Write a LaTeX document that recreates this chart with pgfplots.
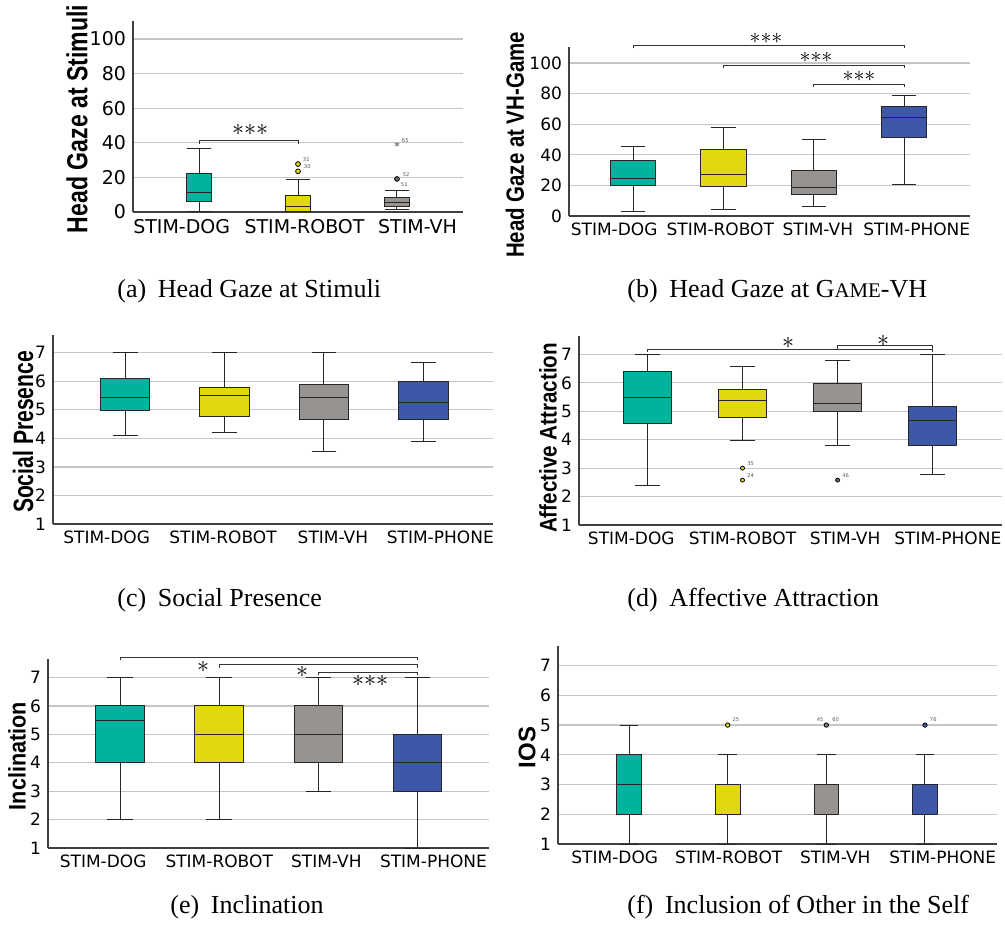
\documentclass[border=0pt]{standalone}
\usepackage{fontspec}
\setmainfont{DejaVu Sans}
\newfontfamily\labfont{Liberation Sans}
\newfontfamily\capfont{Liberation Serif}
\usepackage{graphicx}
\usepackage{pgfplots}
\pgfplotsset{compat=1.18}
\usepgfplotslibrary{statistics}
\definecolor{cteal}{RGB}{0,179,159}
\definecolor{cyel}{RGB}{226,216,18}
\definecolor{cgry}{RGB}{151,147,145}
\definecolor{cblu}{RGB}{61,88,168}
\def\wext{0.25}
\newcommand\bx[8]{\addplot[fill=#1, draw=black!85, line width=0.5pt,
  boxplot prepared={draw direction=y, draw position=#2, lower whisker=#3, lower quartile=#4,
  median=#5, upper quartile=#6, upper whisker=#7, box extend=#8,
  whisker extend=\wext}] coordinates {};}
\newcommand\tinyf{\fontsize{2.6}{3}\selectfont}
\newcommand\sss{${\ast}{\ast}{\ast}$}
\newcommand\sone{${\ast}$}
\pgfplotsset{mybox/.style={scale only axis, anchor=south west,
  axis x line*=bottom, axis y line*=left,
  axis line style={-, draw=black!75, line width=0.8pt},
  major tick length=0pt, ymajorgrids,
  grid style={draw=gray!45, line width=0.6pt},
  xtick={-0.17,1.0,2.08,3.16}, xticklabels={STIM-DOG,STIM-ROBOT,STIM-VH,STIM-PHONE},
  tick label style={font=\fontsize{8.5}{10}\selectfont},
  /pgf/number format/assume math mode=true, clip=false}}
\tikzset{brk/.style={draw=black!80, line width=0.5pt},
  omark/.style={only marks, mark=*, mark size=1.2pt, mark options={draw=black, line width=0.4pt}}}
\begin{document}
\begin{tikzpicture}
\path[use as bounding box] (0,0) rectangle (502.5pt,-468pt);
% ---------------- (a)
\def\wext{0.25}
\begin{axis}[mybox, at={(66.5pt,-106pt)}, width=165pt, height=95.5pt,
  xmin=-0.667, xmax=2.667, ymin=0, ymax=110.4, ytick={0,20,...,100},
  xtick={-0.175,1.066,2.207},
  tick label style={font=\fontsize{9.5}{11}\selectfont}]
\bx{cteal}{0}{0}{6.0}{11.2}{22.2}{36.6}{0.26}
\bx{cyel}{1}{0}{0}{3.1}{9.3}{18.8}{0.26}
\bx{cgry}{2}{1.5}{3.0}{5.7}{8.1}{12.6}{0.26}
\addplot[omark, mark options={fill=cyel}] coordinates {(1,27.7) (1,23.5)};
\addplot[omark, mark options={fill=black!60}] coordinates {(2,19.1)};
\addplot[only marks, mark=asterisk, mark size=1.2pt, gray] coordinates {(2,39.1)};
\node[font=\tinyf, gray!70!black, anchor=south west, inner sep=0.3pt] at (axis cs:1.04,28.5) {31};
\node[font=\tinyf, gray!70!black, anchor=west, inner sep=0.3pt] at (axis cs:1.05,26.2) {30};
\node[font=\tinyf, gray!70!black, anchor=south west, inner sep=0.3pt] at (axis cs:2.05,20.0) {52};
\node[font=\tinyf, gray!70!black, anchor=west, inner sep=0.3pt] at (axis cs:2.03,16.0) {51};
\node[font=\tinyf, gray!70!black, anchor=south west, inner sep=0.3pt] at (axis cs:2.04,39.6) {65};
\draw[brk] (axis cs:0,39.1) |- (axis cs:1,41.4) -- (axis cs:1,39.1);
\end{axis}
% ---------------- (b)
\def\wext{0.27}
\begin{axis}[mybox, at={(284.5pt,-108pt)}, width=200.5pt, height=84.5pt,
  xmin=-0.71, xmax=3.73, ymin=0, ymax=110.5, ytick={0,20,...,100},
  xtick={-0.21,0.965,2.045,3.14}]
\bx{cteal}{0}{2.8}{20.0}{24.2}{36.4}{45.3}{0.5}
\bx{cyel}{1}{4.4}{19.6}{27.2}{43.6}{58.0}{0.5}
\bx{cgry}{2}{5.9}{14.2}{18.7}{29.8}{50.3}{0.5}
\bx{cblu}{3}{20.7}{51.4}{64.5}{71.9}{79.1}{0.5}
\draw[brk] (axis cs:0,109.6) |- (axis cs:3,111.5) -- (axis cs:3,109.6);
\draw[brk] (axis cs:1,97.0) |- (axis cs:3,98.7) -- (axis cs:3,97.0);
\draw[brk] (axis cs:2,84.1) |- (axis cs:3,86.1) -- (axis cs:3,84.1);
\end{axis}
% ---------------- (c)
\def\wext{0.25}
\begin{axis}[mybox, at={(26.5pt,-262pt)}, width=220pt, height=94.5pt,
  xmin=-0.725, xmax=3.70, ymin=1, ymax=7.62, ytick={1,...,7},
  xtick={-0.185,0.985,2.09,3.17}]
\bx{cteal}{0}{4.11}{4.99}{5.44}{6.09}{7.0}{0.5}
\bx{cyel}{1}{4.21}{4.77}{5.50}{5.78}{7.0}{0.5}
\bx{cgry}{2}{3.55}{4.67}{5.44}{5.89}{7.0}{0.5}
\bx{cblu}{3}{3.88}{4.67}{5.27}{5.99}{6.66}{0.5}
\end{axis}
% ---------------- (d)
\def\wext{0.26}
\begin{axis}[mybox, at={(289.5pt,-262.5pt)}, width=211.5pt, height=94.5pt,
  xmin=-0.72, xmax=3.73, ymin=1, ymax=7.65, ytick={1,...,7}]
\bx{cteal}{0}{2.40}{4.58}{5.50}{6.39}{7.0}{0.51}
\bx{cyel}{1}{3.99}{4.79}{5.39}{5.78}{6.59}{0.51}
\bx{cgry}{2}{3.79}{4.99}{5.28}{5.99}{6.80}{0.51}
\bx{cblu}{3}{2.78}{3.79}{4.69}{5.18}{7.0}{0.51}
\addplot[omark, mark size=1.0pt, mark options={fill=cyel}] coordinates {(1,3.0) (1,2.58)};
\addplot[omark, mark size=1.0pt, mark options={fill=black!55}] coordinates {(2,2.58)};
\node[font=\tinyf, gray!70!black, anchor=south west, inner sep=0.3pt] at (axis cs:1.04,3.05) {35};
\node[font=\tinyf, gray!70!black, anchor=south west, inner sep=0.3pt] at (axis cs:1.04,2.63) {24};
\node[font=\tinyf, gray!70!black, anchor=south west, inner sep=0.3pt] at (axis cs:2.04,2.63) {46};
\draw[brk] (axis cs:0,7.08) |- (axis cs:3,7.16) -- (axis cs:3,7.08);
\draw[brk] (axis cs:2,7.2) |- (axis cs:3,7.33) -- (axis cs:3,7.2);
\end{axis}
% ---------------- (e)
\def\wext{0.26}
\begin{axis}[mybox, at={(24pt,-424pt)}, width=220.5pt, height=94.5pt,
  xmin=-0.726, xmax=3.72, ymin=1, ymax=7.65, ytick={1,...,7}]
\bx{cteal}{0}{2}{4}{5.5}{6}{7}{0.49}
\bx{cyel}{1}{2}{4}{5}{6}{7}{0.49}
\bx{cgry}{2}{3}{4}{5}{6}{7}{0.49}
\bx{cblu}{3}{1}{3}{4}{5}{7}{0.49}
\draw[brk] (axis cs:0,7.60) |- (axis cs:3,7.69) -- (axis cs:3,7.60);
\draw[brk] (axis cs:1,7.34) |- (axis cs:3,7.455) -- (axis cs:3,7.34);
\draw[brk] (axis cs:2,7.08) |- (axis cs:3,7.17) -- (axis cs:3,7.08);
\end{axis}
% ---------------- (f)
\def\wext{0.19}
\begin{axis}[mybox, at={(279pt,-422pt)}, width=219.5pt, height=99pt,
  xmin=-0.72, xmax=3.73, ymin=1, ymax=7.66, ytick={1,...,7},
  xtick={-0.145,1.01,2.09,3.18}]
\bx{cteal}{0}{1}{2}{3}{4}{5}{0.25}
\bx{cyel}{1}{1}{2}{2}{3}{4}{0.25}
\bx{cgry}{2}{1}{2}{3}{3}{4}{0.25}
\bx{cblu}{3}{1}{2}{2}{3}{4}{0.25}
\addplot[omark, mark size=1.1pt, mark options={fill=cyel}] coordinates {(1,5)};
\addplot[omark, mark size=1.1pt, mark options={fill=black!50}] coordinates {(2,5)};
\addplot[omark, mark size=1.1pt, mark options={fill=cblu}] coordinates {(3,5)};
\node[font=\tinyf, gray!70!black, anchor=south west, inner sep=0.3pt] at (axis cs:1.04,5.08) {25};
\node[font=\tinyf, gray!70!black, anchor=south east, inner sep=0.3pt] at (axis cs:1.98,5.08) {45};
\node[font=\tinyf, gray!70!black, anchor=south west, inner sep=0.3pt] at (axis cs:2.05,5.08) {60};
\node[font=\tinyf, gray!70!black, anchor=south west, inner sep=0.3pt] at (axis cs:3.04,5.08) {76};
\end{axis}
% ---------------- y labels
\tikzset{yl/.style={rotate=90, inner sep=0pt}}
\node[yl, font=\labfont\bfseries\fontsize{14.5}{16}\selectfont] at (38.5pt,-59.5pt) {\scalebox{0.795}[1]{Head Gaze at Stimuli}};
\node[yl, font=\labfont\bfseries\fontsize{12.5}{14}\selectfont] at (257.5pt,-72.5pt) {\scalebox{0.817}[1]{Head Gaze at VH-Game}};
\node[yl, font=\labfont\bfseries\fontsize{14}{16}\selectfont] at (11.5pt,-216pt) {\scalebox{0.754}[1]{Social Presence}};
\node[yl, font=\labfont\bfseries\fontsize{12}{14}\selectfont] at (274pt,-219pt) {\scalebox{0.858}[1]{Affective Attraction}};
\node[yl, font=\labfont\bfseries\fontsize{12}{14}\selectfont] at (8.5pt,-378pt) {\scalebox{0.9}[1]{Inclination}};
\node[yl, font=\labfont\bfseries\fontsize{12}{14}\selectfont] at (263.5pt,-373.75pt) {IOS};
% ---------------- stars
\node[font=\fontsize{11.5}{12}\selectfont, inner sep=0pt] at (125pt,-65pt) {\sss};
\node[font=\fontsize{10.5}{12}\selectfont, inner sep=0pt] at (383pt,-19pt) {\sss};
\node[font=\fontsize{10.5}{12}\selectfont, inner sep=0pt] at (408pt,-28.5pt) {\sss};
\node[font=\fontsize{10.5}{12}\selectfont, inner sep=0pt] at (429.5pt,-38pt) {\sss};
\node[font=\fontsize{13}{14}\selectfont, inner sep=0pt] at (394pt,-171.5pt) {\sone};
\node[font=\fontsize{13}{14}\selectfont, inner sep=0pt] at (441.5pt,-170.5pt) {\sone};
\node[font=\fontsize{12}{14}\selectfont, inner sep=0pt] at (101.5pt,-333.5pt) {\sone};
\node[font=\fontsize{12}{14}\selectfont, inner sep=0pt] at (151pt,-336pt) {\sone};
\node[font=\fontsize{11.5}{12}\selectfont, inner sep=0pt] at (185pt,-340.5pt) {\sss};
% ---------------- captions
\tikzset{mycap/.style={anchor=west, inner sep=0pt, font=\capfont\fontsize{13}{15}\selectfont}}
\node[mycap] at (58.5pt,-145.5pt) {(a)\hspace{0.45em}Head Gaze at Stimuli};
\node[mycap] at (313.5pt,-145.5pt) {(b)\hspace{0.45em}Head Gaze at G{\fontsize{10.4}{12}\selectfont AME}-VH};
\node[mycap] at (58.5pt,-300pt) {(c)\hspace{0.45em}Social Presence};
\node[mycap] at (313.5pt,-300pt) {(d)\hspace{0.45em}Affective Attraction};
\node[mycap] at (85pt,-453.5pt) {(e)\hspace{0.45em}Inclination};
\node[mycap] at (313.5pt,-453.5pt) {(f)\hspace{0.45em}Inclusion of Other in the Self};
\end{tikzpicture}
\end{document}
